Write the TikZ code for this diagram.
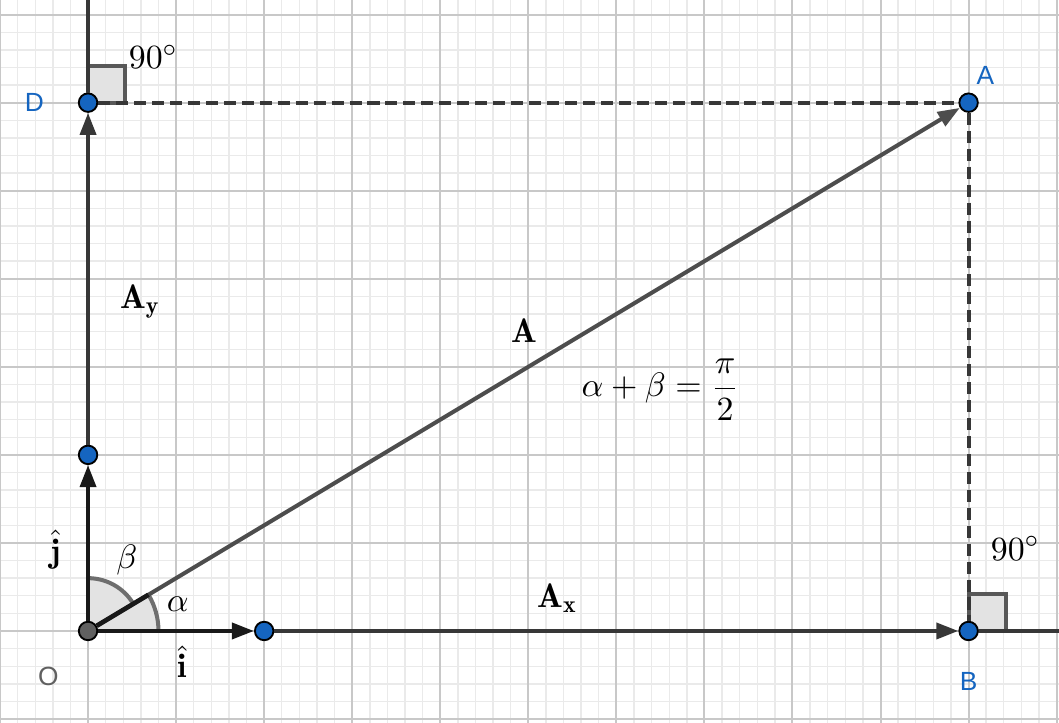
\documentclass[tikz,border=0pt]{standalone}
\usepackage{amsmath}
\usepackage{amssymb}
\usepackage{fontspec}
\newfontfamily\ptfont{Liberation Sans}
\usetikzlibrary{arrows.meta}
\definecolor{ggblue}{RGB}{21,101,192}
\definecolor{ggminor}{RGB}{234,234,234}
\definecolor{ggmajor}{RGB}{200,200,200}
\definecolor{ggline}{RGB}{55,55,55}
\definecolor{ggvec}{RGB}{77,77,77}
\definecolor{ggarc}{RGB}{110,110,110}

\begin{document}
\begin{tikzpicture}[x=1cm,y=1cm,font=\fontsize{11}{13}\selectfont,
  pt/.style={circle,draw=black,line width=0.6pt,fill=ggblue,minimum size=0.21cm,inner sep=0pt},
  vec/.style={ggline,line width=1.3pt,-{Triangle[length=2.5mm,width=1.8mm]}},
  axisline/.style={ggline,line width=1.3pt},
  dashline/.style={ggline,line width=1.3pt,dash pattern=on 3.9pt off 1.9pt},
  ptlabel/.style={text=ggblue,font=\ptfont\fontsize{8.5}{10}\selectfont},
  rightsq/.style={fill=gray!22,draw=ggarc!80!black,line width=1.3pt},
  sector/.style={fill=gray!22}]
  \useasboundingbox (-1.0,-1.034) rectangle (11.027,7.166);
  \clip (-1.0,-1.034) rectangle (11.027,7.166);
  \draw[ggminor,line width=0.45pt,step=0.2] (-1.2,-1.2) grid (11.2,7.4);
  \draw[ggmajor,line width=0.65pt,step=1] (-1.2,-1.2) grid (11.2,7.4);
  % angles
  \fill[sector] (0,0) -- (0.8,0) arc[start angle=0,end angle=30.964,radius=0.8] -- cycle;
  \fill[sector] (0,0) -- (30.964:0.6) arc[start angle=30.964,end angle=90,radius=0.6] -- cycle;
  \draw[ggarc,line width=1.3pt] (0.8,0) arc[start angle=0,end angle=30.964,radius=0.8];
  \draw[ggarc,line width=1.3pt] (30.964:0.6) arc[start angle=30.964,end angle=90,radius=0.6];
  \draw[rightsq] (0,6) rectangle (0.42,6.42);
  \draw[rightsq] (10,0) rectangle (10.43,0.42);
  % points
  \node[pt,fill=gray!75!black] (O) at (0,0) {};
  \node[pt] (I) at (2,0) {};
  \node[pt] (J) at (0,2) {};
  \node[pt] (B) at (10,0) {};
  \node[pt] (D) at (0,6) {};
  \node[pt] (A) at (10,6) {};
  \coordinate (xend) at (11.2,0);
  \coordinate (yend) at (0,7.4);
  \coordinate (aend) at (30.964:0.8);
  % vectors
  \draw[vec,black!90] (O) -- (I);
  \draw[vec] (I) -- (B);
  \draw[axisline] (B) -- (xend);
  \draw[vec,black!90] (O) -- (J);
  \draw[vec] (J) -- (D);
  \draw[axisline] (D) -- (yend);
  \draw[vec,ggvec] (O) -- (A);
  \draw[black!90,line width=1.5pt] (O) -- (aend);
  \draw[dashline] (D) -- (A);
  \draw[dashline] (A) -- (B);
  % labels
  \node[ptlabel] (labO) at (-0.45,-0.52) {\textcolor{gray!75!black}{O}};
  \node[ptlabel] (labD) at (-0.61,6.0) {D};
  \node[ptlabel] (labA) at (10.19,6.31) {A};
  \node[ptlabel] (labB) at (10.0,-0.57) {B};
  \node (rtD) at (0.74,6.52) {$90^\circ$};
  \node (rtB) at (10.53,0.94) {$90^\circ$};
  \node (labAy) at (0.59,3.74) {$\mathbf{A_y}$};
  \node (labAv) at (4.95,3.41) {$\mathbf{A}$};
  \node (labAx) at (5.33,0.37) {$\mathbf{A_x}$};
  \node (sum) at (6.5,2.74) {$\alpha+\beta=\dfrac{\pi}{2}$};
  \node (labj) at (-0.37,0.92) {$\hat{\mathbf{j}}$};
  \node (labi) at (1.07,-0.35) {$\hat{\mathbf{i}}$};
  \node (labbeta) at (0.44,0.81) {$\beta$};
  \node (labalpha) at (1.02,0.30) {$\alpha$};
\end{tikzpicture}
\end{document}
